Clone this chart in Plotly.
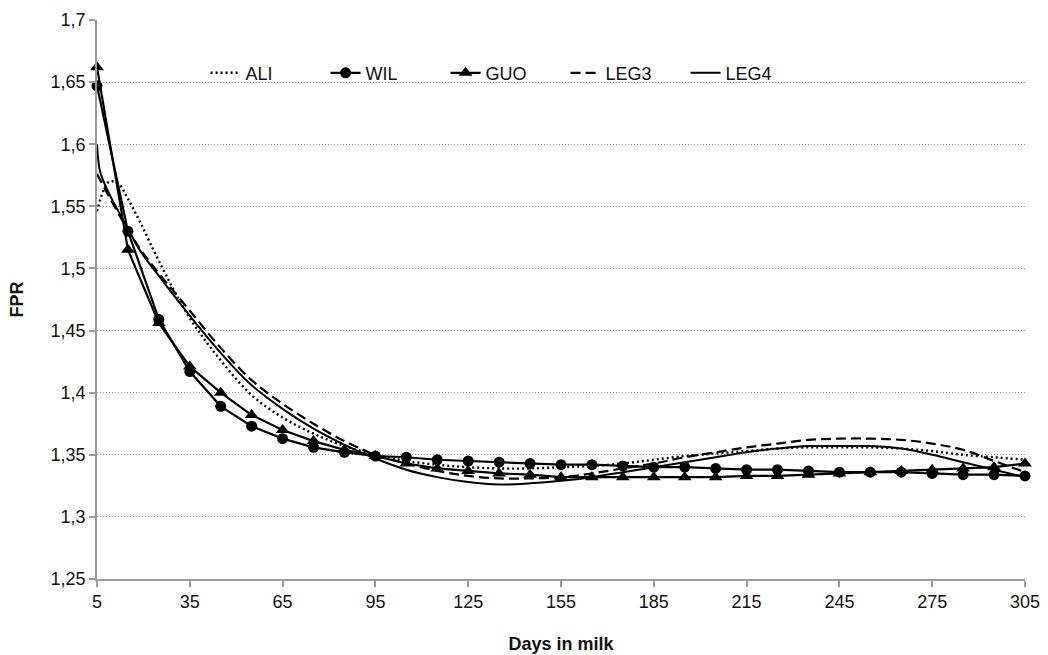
import plotly.graph_objects as go

# ---- data ----
mark_days = [5, 15, 25, 35, 45, 55, 65, 75, 85, 95, 105, 115, 125, 135, 145, 155,
             165, 175, 185, 195, 205, 215, 225, 235, 245, 255, 265, 275, 285, 295, 305]
wil = [1.647, 1.530, 1.459, 1.417, 1.389, 1.373, 1.363, 1.356, 1.352, 1.349, 1.348,
       1.346, 1.345, 1.344, 1.343, 1.342, 1.342, 1.341, 1.340, 1.340, 1.339, 1.338,
       1.338, 1.337, 1.336, 1.336, 1.336, 1.335, 1.334, 1.334, 1.333]
guo = [1.662, 1.515, 1.456, 1.421, 1.400, 1.382, 1.370, 1.361, 1.354, 1.349, 1.343,
       1.339, 1.337, 1.335, 1.334, 1.332, 1.332, 1.332, 1.332, 1.332, 1.332, 1.333,
       1.333, 1.334, 1.335, 1.336, 1.337, 1.338, 1.339, 1.340, 1.343]

ali_days = [5, 7, 9, 12, 15, 19, 25, 35, 45, 55, 65, 75, 85, 95, 105, 115, 125, 135,
            145, 155, 165, 175, 185, 195, 205, 215, 225, 235, 245, 255, 265, 275,
            285, 295, 305]
ali = [1.546, 1.562, 1.570, 1.568, 1.556, 1.537, 1.506, 1.460, 1.426, 1.398, 1.380,
       1.367, 1.357, 1.350, 1.345, 1.342, 1.340, 1.339, 1.339, 1.340, 1.341, 1.343,
       1.346, 1.349, 1.351, 1.353, 1.355, 1.356, 1.356, 1.356, 1.355, 1.353,
       1.350, 1.348, 1.346]

leg3_days = [5, 10, 15, 20, 25, 35, 45, 55, 65, 75, 85, 95, 105, 115, 125, 135, 145,
             155, 165, 175, 185, 195, 205, 215, 225, 235, 245, 255, 265, 275, 285,
             295, 305]
leg3 = [1.576, 1.553, 1.531, 1.512, 1.496, 1.466, 1.436, 1.410, 1.391, 1.375, 1.361,
        1.350, 1.343, 1.337, 1.333, 1.331, 1.331, 1.332, 1.335, 1.339, 1.343, 1.348,
        1.352, 1.356, 1.359, 1.362, 1.363, 1.363, 1.362, 1.359, 1.354, 1.345, 1.336]

leg4_days = [5, 6, 8, 10, 15, 19, 25, 35, 45, 55, 65, 75, 85, 95, 105, 115, 125, 135,
             145, 155, 165, 175, 185, 195, 205, 215, 225, 235, 245, 255, 265, 275,
             285, 295, 305]
leg4 = [1.600, 1.578, 1.565, 1.555, 1.532, 1.514, 1.494, 1.462, 1.432, 1.406, 1.387,
        1.371, 1.358, 1.347, 1.338, 1.332, 1.328, 1.326, 1.327, 1.329, 1.332, 1.336,
        1.340, 1.344, 1.348, 1.352, 1.355, 1.357, 1.357, 1.357, 1.355, 1.350,
        1.344, 1.338, 1.332]

x_ticks = [5, 35, 65, 95, 125, 155, 185, 215, 245, 275, 305]
y_ticks = [1.25, 1.3, 1.35, 1.4, 1.45, 1.5, 1.55, 1.6, 1.65, 1.7]
y_labels = ["1,25", "1,3", "1,35", "1,4", "1,45", "1,5", "1,55", "1,6", "1,65", "1,7"]

FONT = "Liberation Sans, Arial, sans-serif"
TXT = "#111"

fig = go.Figure()
fig.add_trace(go.Scatter(x=ali_days, y=ali, name="ALI", mode="lines",
                         line=dict(color="black", width=2.4, dash="2px,3px", shape="spline")))
fig.add_trace(go.Scatter(x=mark_days, y=wil, name="WIL", mode="lines+markers",
                         line=dict(color="black", width=2.2),
                         marker=dict(symbol="circle", size=11, color="black"),
                         cliponaxis=False))
fig.add_trace(go.Scatter(x=mark_days, y=guo, name="GUO", mode="lines+markers",
                         line=dict(color="black", width=2.2),
                         marker=dict(symbol="triangle-up", size=12, color="black"),
                         cliponaxis=False))
fig.add_trace(go.Scatter(x=leg3_days, y=leg3, name="LEG3", mode="lines",
                         line=dict(color="black", width=2.2, dash="10px,5px", shape="spline")))
fig.add_trace(go.Scatter(x=leg4_days, y=leg4, name="LEG4", mode="lines",
                         line=dict(color="black", width=2, shape="spline")))

fig.update_layout(
    width=1048, height=655,
    margin=dict(l=97, r=23, t=20, b=76),
    paper_bgcolor="white", plot_bgcolor="white",
    font=dict(family=FONT, size=18, color=TXT),
    legend=dict(orientation="h", x=0.117, y=0.905, xanchor="left", yanchor="middle",
                font=dict(size=18, color=TXT), bgcolor="rgba(0,0,0,0)",
                entrywidth=75, entrywidthmode="pixels", itemwidth=30),
    showlegend=True,
)
fig.update_xaxes(range=[5, 305], tickvals=x_ticks, ticktext=[str(v) for v in x_ticks],
                 showgrid=False, zeroline=False, automargin=False,
                 showline=True, linecolor="#9a9a9a", linewidth=1.5,
                 ticks="outside", ticklen=6, tickcolor="#9a9a9a", tickwidth=1.5,
                 tickfont=dict(size=18, color=TXT),
                 title=dict(text="<b>Days in milk</b>", font=dict(size=18, color=TXT),
                            standoff=26))
fig.update_yaxes(range=[1.25, 1.7], tickvals=y_ticks, ticktext=y_labels,
                 showgrid=True, gridcolor="#9a9a9a", gridwidth=1, griddash="1px,2px",
                 zeroline=False, automargin=False,
                 showline=True, linecolor="#9a9a9a", linewidth=1.5,
                 ticks="outside", ticklen=6, tickcolor="#9a9a9a", tickwidth=1.5,
                 tickfont=dict(size=18, color=TXT),
                 title=dict(text="<b>FPR</b>", font=dict(size=18, color=TXT),
                            standoff=22))

fig.write_html("out.html")
